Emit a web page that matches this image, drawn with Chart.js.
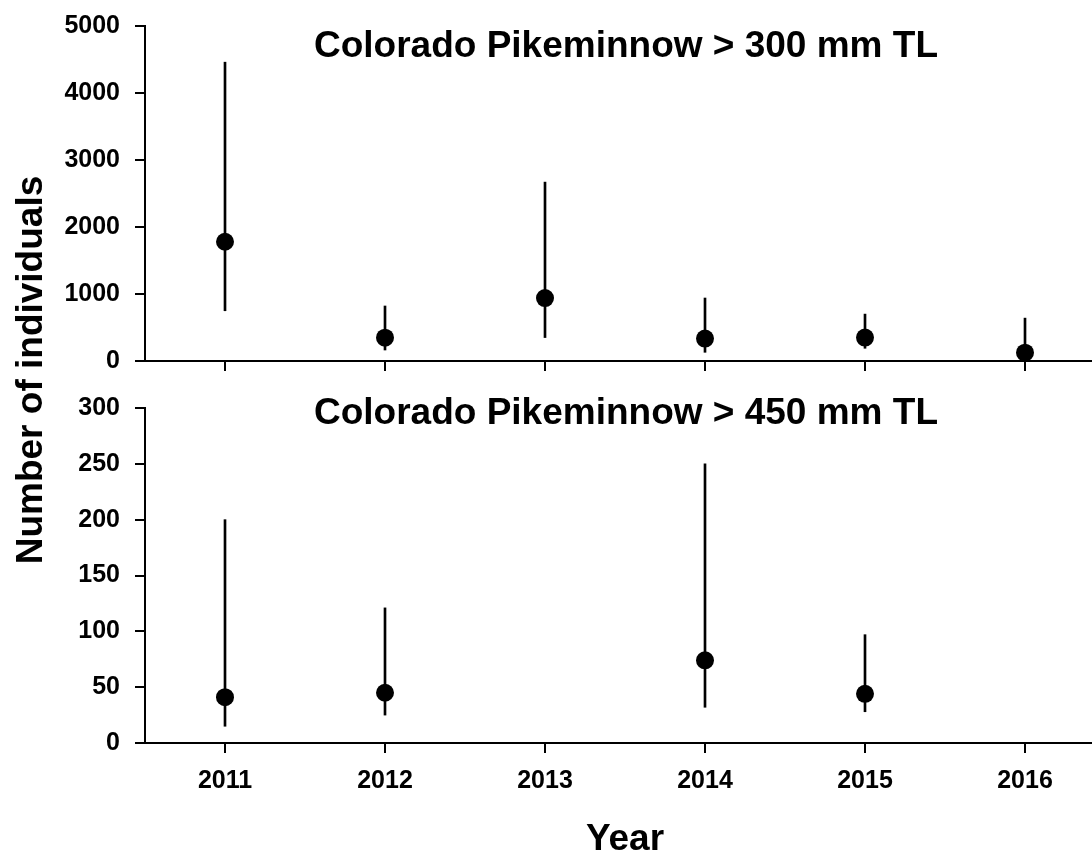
<!DOCTYPE html>
<html>
<head>
<meta charset="utf-8">
<script src="https://cdn.jsdelivr.net/npm/chart.js@4/dist/chart.umd.min.js"></script>
<style>
html, body { margin: 0; padding: 0; overflow: hidden; background: #fff; width: 1092px; height: 856px; }
#c1 { position: absolute; left: 0; top: 0; }
#c2 { position: absolute; left: 0; top: 380px; }
#ylab {
  position: absolute; left: -221px; top: 350px; width: 500px; height: 40px;
  line-height: 40px; text-align: center; transform: rotate(-90deg);
  font: bold 37px "Liberation Sans", Arial, sans-serif; color: #000;
}
</style>
</head>
<body>
<canvas id="c1" width="1105" height="372"></canvas>
<canvas id="c2" width="1105" height="476"></canvas>
<div id="ylab">Number of individuals</div>
<script>
var years = ["2011", "2012", "2013", "2014", "2015", "2016"]

// > 300 mm TL
var topEst = [1780, 348, 940, 335, 350, 125]
var topLow = [750, 164, 350, 130, 190, 60]
var topHigh = [4460, 821, 2670, 940, 700, 640]

// > 450 mm TL
var botEst = [41, 45, null, 74, 44, null]
var botLow = [15, 25, null, 32, 28, null]
var botHigh = [200, 121, null, 250, 97, null]

var topTitle = "Colorado Pikeminnow > 300 mm TL"
var botTitle = "Colorado Pikeminnow > 450 mm TL"

var font = "'Liberation Sans', Arial, sans-serif"

function ranges(lo, hi){
    var out = []
    for(var i=0;i<lo.length;i++){
        if(lo[i]==null) out.push(null)
        else out.push([lo[i], hi[i]])
    }
    return out
}

// panel heading drawn inside the plot area
var panelTitle = {
    id: "panelTitle",
    afterDraw: function(chart, args, opts){
        var ctx = chart.ctx
        ctx.save()
        ctx.font = "bold 37px " + font
        ctx.fillStyle = "#000"
        ctx.textAlign = "center"
        ctx.textBaseline = "alphabetic"
        ctx.fillText(opts.text, opts.x, opts.y)
        ctx.restore()
    }
}

function makeChart(id, est, lo, hi, max, step, title, titleY, bottom){
    return new Chart(id, {
        type: "bar",
        data: {
            labels: years,
            datasets: [
                {
                    type: "line",
                    data: est,
                    showLine: false,
                    pointRadius: 9,
                    pointHoverRadius: 9,
                    pointBackgroundColor: "#000",
                    pointBorderWidth: 0,
                    clip: false,
                    order: 0
                },
                {
                    data: ranges(lo, hi),
                    backgroundColor: "#000",
                    barThickness: 2,
                    order: 1
                }
            ]
        },
        options: {
            responsive: false,
            animation: false,
            events: [],
            layout: { autoPadding: false, padding: { top: bottom ? 28 : 26, left: 0, right: 0, bottom: 0 } },
            plugins: {
                legend: { display: false },
                tooltip: { enabled: false },
                panelTitle: { text: title, x: 626, y: titleY }
            },
            scales: {
                x: {
                    offset: true,
                    grid: { offset: false, drawOnChartArea: false, drawTicks: true, tickLength: 10, color: "#000", lineWidth: 2 },
                    border: { display: true, color: "#000", width: 2 },
                    ticks: { display: bottom, color: "#000", padding: 13, font: { family: font, size: 25, weight: "bold" } },
                    title: { display: bottom, text: "Year", color: "#000", padding: 0, font: { family: font, size: 37, weight: "bold", lineHeight: 0.9 } },
                    afterFit: function(s){
                        s.height = bottom ? 113 : 11
                        s.paddingLeft = 0
                        s.paddingRight = 0
                    }
                },
                y: {
                    min: 0,
                    max: max,
                    grid: { drawOnChartArea: false, drawTicks: true, tickLength: 10, color: "#000", lineWidth: 2 },
                    border: { display: true, color: "#000", width: 2 },
                    ticks: {
                        stepSize: step,
                        color: "#000",
                        padding: 15,
                        font: { family: font, size: 25, weight: "bold" },
                        callback: function(v){ return String(v) }
                    },
                    afterFit: function(s){
                        s.width = 145
                        s.paddingTop = 0
                        s.paddingBottom = 0
                    }
                }
            }
        },
        plugins: [panelTitle]
    })
}

makeChart("c1", topEst, topLow, topHigh, 5000, 1000, topTitle, 57, false)
makeChart("c2", botEst, botLow, botHigh, 300, 50, botTitle, 44, true)
</script>
</body>
</html>
